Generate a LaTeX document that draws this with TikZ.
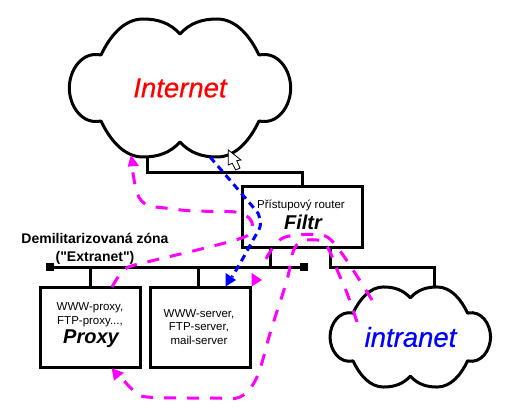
\documentclass[tikz,border=0pt]{standalone}
\usepackage{fontspec}
\setmainfont{Liberation Sans}
\newfontfamily\zonefont{Liberation Sans}
\usetikzlibrary{positioning}
\usetikzlibrary{calc}
\definecolor{magline}{RGB}{255,0,255}
\definecolor{blueline}{RGB}{0,0,255}

\newcommand{\cloudshape}[2]{%
  \draw[cloudline,shift={(#1)},scale=#2]
    (0,-54) .. controls (10,-65) and (22,-69) .. (37,-69)
    .. controls (56,-69) and (70,-52) .. (79,-33)
    .. controls (98,-37) and (110.7,-18) .. (110.7,0)
    .. controls (110.7,18) and (98,37) .. (79,33)
    .. controls (70,52) and (56,69) .. (37,69)
    .. controls (22,69) and (10,65) .. (0,54)
    .. controls (-10,65) and (-22,69) .. (-37,69)
    .. controls (-56,69) and (-70,52) .. (-79,33)
    .. controls (-98,37) and (-110.7,18) .. (-110.7,0)
    .. controls (-110.7,-18) and (-98,-37) .. (-79,-33)
    .. controls (-70,-52) and (-56,-69) .. (-37,-69)
    .. controls (-22,-69) and (-10,-65) .. (0,-54) -- cycle;
}

\begin{document}
\begin{tikzpicture}[x=1pt,y=-1pt,
  wire/.style={line width=3pt},
  cloudline/.style={line width=3pt,line join=round},
  box/.style={draw,line width=3pt,minimum width=100.4pt,minimum height=80pt,inner sep=0pt},
  busend/.style={fill=black,minimum size=8pt,inner sep=0pt},
  smalltxt/.style={font=\fontsize{11.5pt}{13.6pt}\selectfont,align=center},
  nametxt/.style={font=\fontsize{20pt}{24pt}\selectfont\bfseries\itshape},
  cloudtxt/.style={font=\fontsize{27.5pt}{30pt}\selectfont\itshape\addfontfeature{FakeBold=0.5}},
  zonetxt/.style={font=\zonefont\fontsize{14pt}{18pt}\selectfont\bfseries,align=center},
  magdash/.style={magline,line width=3pt,dash pattern=on 12pt off 11pt},
  bluedash/.style={blueline,line width=3pt,dash pattern=on 7pt off 5pt}]

\useasboundingbox (0,0) rectangle (509,419);

%---------------------------------------
% Clouds
%---------------------------------------
\cloudshape{180,88}{1}
\cloudshape{410.3,337}{0.725}
\node[cloudtxt,red] (internet) at (180,88) {Internet};
\node[cloudtxt,blueline] (intranet) at (410.5,337) {intranet};

\coordinate (inettap) at (147.3,157);
\coordinate (intratap) at (434,287.5);

%---------------------------------------
% Boxes
%---------------------------------------
\node[box,minimum width=120.4pt,minimum height=60.6pt] (filtr) at (302.5,217) {};
\node[box] (proxy) at (90.5,327.3) {};
\node[box] (server) at (200.7,327.3) {};

\node[smalltxt] (filtrtxt) at (301,205) {Přístupový router};
\node[nametxt] (filtrname) at (303,222) {Filtr};
\node[smalltxt] (proxytxt) at (90,315) {WWW-proxy,\\FTP-proxy...,};
\node[nametxt] (proxyname) at (91,339) {Proxy};
\node[smalltxt] (servertxt) at (199,327) {WWW-server,\\FTP-server,\\mail-server};

%---------------------------------------
% Bus
%---------------------------------------
\node[busend] (busl) at (50,267.3) {};
\node[busend] (busr) at (304,267.3) {};
\draw[wire] (busl) -- (busr);
\node[zonetxt] (zone) at (95,249) {Demilitarizovaná zóna\\("Extranet")};

\coordinate (proxytap) at (90.7,267.3);
\coordinate (servertap) at (198.7,267.3);
\coordinate (filtrtap) at (270.7,267.3);
\coordinate (intrabend) at (330,267.3);

\draw[wire] (proxytap) -- (proxytap |- proxy.north);
\draw[wire] (servertap) -- (servertap |- server.north);
\draw[wire] (filtrtap) -- (filtrtap |- filtr.south);
\draw[wire,line join=miter] (inettap) -- (147.3,172.3) -| (filtr.north);
\draw[wire,line join=miter] (intrabend |- filtr.south) -- (intrabend) -| (intratap);

%---------------------------------------
% Traffic paths
%---------------------------------------
\coordinate (a) at (112,287);
\coordinate (b) at (131,160);
\draw[magdash] plot[smooth,tension=0.55] coordinates {(a) (125,269) (147,262) (197,250)
  (242,238) (252,230) (250,219) (235,212) (193,211) (165,208) (147,205) (137,193) (b)};
\fill[magline] (131,155) -- (127.7,166.7) -- (139,165.7) -- cycle;

\coordinate (c) at (372,300);
\coordinate (d) at (262,267);
\draw[magdash] plot[smooth,tension=0.55] coordinates {(c) (355,273) (343,255) (333,242)
  (322,235) (297,235) (281,239) (270,252) (d)};
\fill[magline] (251.7,273) -- (262,280) -- (251.7,286.5) -- cycle;

\coordinate (e) at (357,322);
\coordinate (f) at (119,375);
\draw[magdash] plot[smooth,tension=0.55] coordinates {(e) (347,293) (338,272) (330,252)
  (322,241) (302,241) (293,252) (287,280) (271,330) (257,377) (240,397) (213,398)
  (147,397) (133,390) (f)};
\fill[magline] (111.7,368.3) -- (124,372.7) -- (114,380.7) -- cycle;

\coordinate (g) at (210,157);
\coordinate (h) at (232,277);
\draw[bluedash] plot[smooth,tension=0.5] coordinates {(g) (253,207) (259,216)
  (260,227) (253,240) (242,260) (h)};
\fill[blueline] (225.7,273) -- (236,280) -- (225.7,286.5) -- cycle;

%---------------------------------------
% Mouse pointer
%---------------------------------------
\draw[fill=white,line width=0.8pt,line join=miter]
  (228.3,150) -- (228.3,165) -- (232.3,163.3) -- (235.7,170) -- (240,168)
  -- (236.7,160.7) -- (241,160) -- cycle;

\end{tikzpicture}
\end{document}
